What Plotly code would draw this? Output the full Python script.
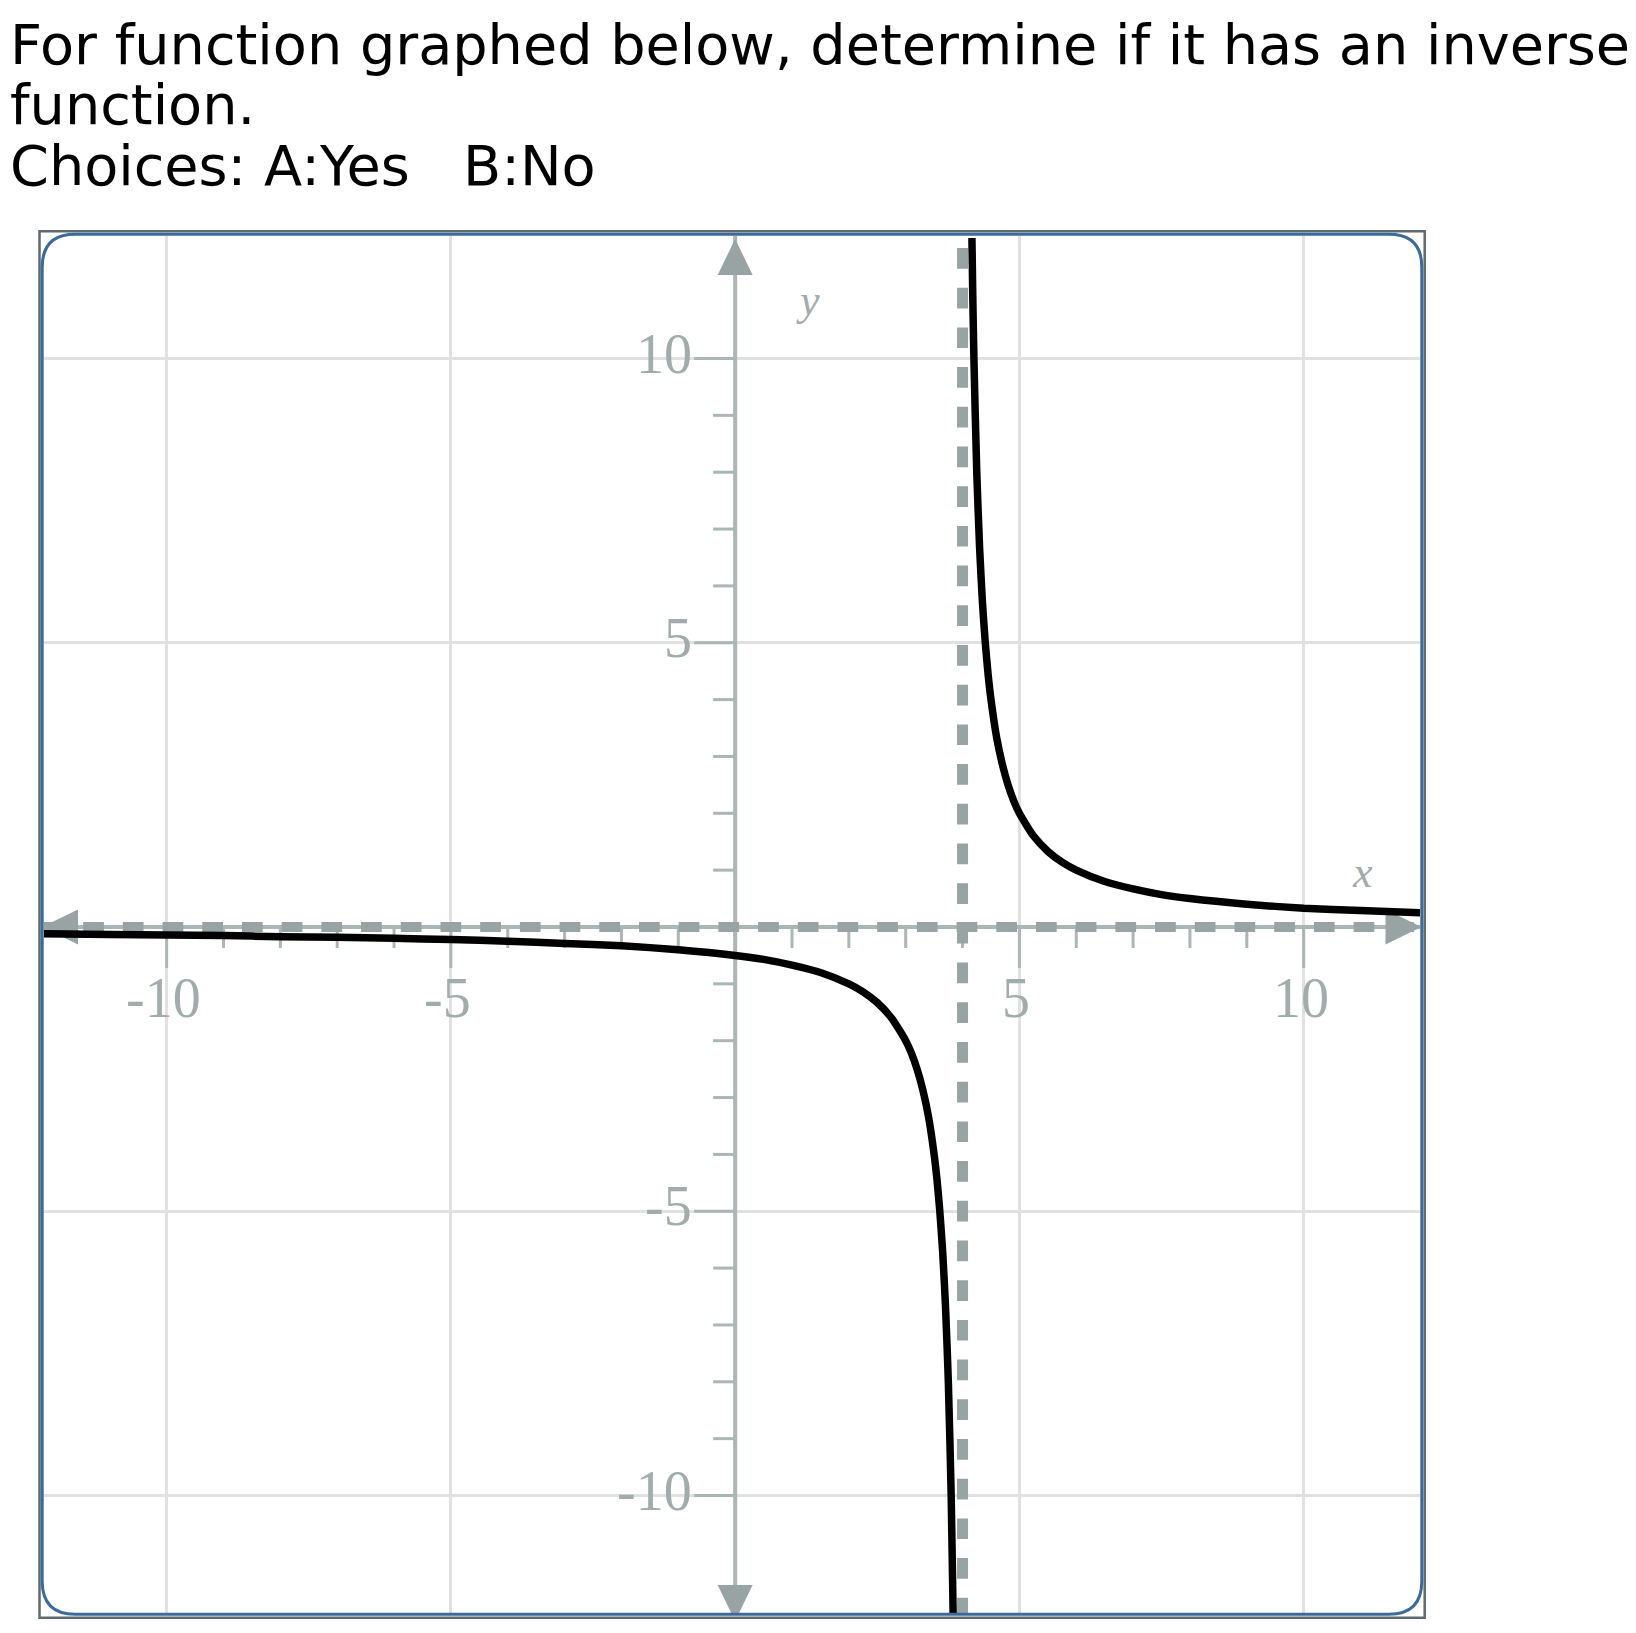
import plotly.graph_objects as go

# ---------------- text ----------------
question_lines = [
    "For function graphed below, determine if it has an inverse",
    "function.",
    "Choices: A:Yes   B:No",
]

# ---------------- data ----------------
left_x = [-12.2, -11, -10, -9, -8, -7, -6, -5, -4, -3, -2, -1, 0, 0.5, 1, 1.5, 2,
          2.25, 2.5, 2.75, 3, 3.1, 3.2, 3.3, 3.4, 3.5, 3.55, 3.6, 3.65, 3.7, 3.75, 3.8, 3.835]
left_y = [-0.12, -0.13, -0.14, -0.15, -0.17, -0.18, -0.2, -0.22, -0.25, -0.29, -0.33, -0.4,
          -0.5, -0.57, -0.67, -0.8, -1.0, -1.14, -1.33, -1.6, -2.0, -2.22, -2.5, -2.86,
          -3.33, -4.0, -4.44, -5.0, -5.71, -6.67, -8.0, -10.0, -12.12]

right_x = [4.165, 4.18, 4.2, 4.25, 4.3, 4.35, 4.4, 4.45, 4.5, 4.6, 4.7, 4.8, 4.9, 5.0,
           5.25, 5.5, 5.75, 6, 6.5, 7, 7.5, 8, 9, 10, 11, 12.1]
right_y = [12.12, 11.1, 10.0, 8.0, 6.67, 5.71, 5.0, 4.44, 4.0, 3.33, 2.86, 2.5, 2.22, 2.0,
           1.6, 1.33, 1.14, 1.0, 0.8, 0.67, 0.57, 0.5, 0.4, 0.33, 0.29, 0.25]

vertical_asymptote = 4
horizontal_asymptote = 0

x_tick_values = [-10, -5, 5, 10]
x_tick_labels = ["-10", "-5", "5", "10"]
y_tick_values = [10, 5, -5, -10]
y_tick_labels = ["10", "5", "-5", "-10"]
small_ticks = [-10, -9, -8, -7, -6, -5, -4, -3, -2, -1, 1, 2, 3, 4, 5, 6, 7, 8, 9, 10]

# ---------------- geometry / style ----------------
OFF = 8  # page body margin
W, H = 1628, 1625
# page-pixel positions of the plotting area
L_pg, R_pg, T_pg, B_pg = 44, 1420, 236, 1613
L, R, T, B = L_pg - OFF, R_pg - OFF, T_pg - OFF, B_pg - OFF
X0_PX, Y0_PX, S = 735.15, 927.0, 56.85  # page pixels of the origin, px per unit

x_range = [(L_pg - X0_PX) / S, (R_pg - X0_PX) / S]
y_range = [(Y0_PX - B_pg) / S, (Y0_PX - T_pg) / S]


def u(p):
    return p / S


def pxp(p):  # page x pixel -> paper
    return (p - L_pg) / (R_pg - L_pg)


def pyp(p):  # page y pixel -> paper
    return (B_pg - p) / (B_pg - T_pg)


AXIS = "#abb6b5"
DARK = "#97a4a3"
GRID = "#e1e1e1"
LABEL = "#a2acac"
SERIF = "Liberation Serif"

fig = go.Figure()

fig.add_trace(go.Scatter(x=left_x, y=left_y, mode="lines",
                         line=dict(color="black", width=7.5, shape="spline", smoothing=0.6),
                         hoverinfo="skip", showlegend=False))
fig.add_trace(go.Scatter(x=right_x, y=right_y, mode="lines",
                         line=dict(color="black", width=7.5, shape="spline", smoothing=0.6),
                         hoverinfo="skip", showlegend=False))

shapes = []
# axis lines
shapes.append(dict(type="line", xref="x", yref="y", x0=x_range[0] - 1, x1=x_range[1] + 1,
                   y0=0, y1=0, line=dict(color=AXIS, width=4), layer="between"))
shapes.append(dict(type="line", xref="x", yref="y", x0=0, x1=0,
                   y0=y_range[0] - 1, y1=y_range[1] + 1, line=dict(color=AXIS, width=4), layer="between"))
# tick marks
major = set(x_tick_values)
for t in small_ticks:
    ln = u(41) if t in major else u(21)
    shapes.append(dict(type="line", xref="x", yref="y", x0=t, x1=t, y0=0, y1=-ln,
                       line=dict(color=AXIS, width=3), layer="between"))
major_y = set(y_tick_values)
for t in small_ticks:
    ln = u(41) if t in major_y else u(22)
    shapes.append(dict(type="line", xref="x", yref="y", x0=0, x1=-ln, y0=t, y1=t,
                       line=dict(color=AXIS, width=3), layer="between"))
# asymptotes (dashed)
shapes.append(dict(type="line", xref="x", yref="y", x0=(3.8 - X0_PX) / S, x1=x_range[1] + 1,
                   y0=horizontal_asymptote, y1=horizontal_asymptote,
                   line=dict(color=DARK, width=10, dash="20.7px,19px"), layer="between"))
shapes.append(dict(type="line", xref="x", yref="y", x0=vertical_asymptote, x1=vertical_asymptote,
                   y0=(Y0_PX - 208.3) / S, y1=y_range[0] - 1,
                   line=dict(color=DARK, width=11, dash="20.7px,19px"), layer="between"))
# arrow heads
hw, al = u(17.5), u(36)
ytip_top, ytip_bot = u(Y0_PX - 239), -u(1621 - Y0_PX)
xtip_l, xtip_r = -u(X0_PX - 42), u(1421.5 - X0_PX)
arrows = [
    f"M {-hw},{ytip_top - al} L {hw},{ytip_top - al} L 0,{ytip_top} Z",
    f"M {-hw},{ytip_bot + al} L {hw},{ytip_bot + al} L 0,{ytip_bot} Z",
    f"M {xtip_l + al},{-hw} L {xtip_l + al},{hw} L {xtip_l},0 Z",
    f"M {xtip_r - al},{-hw} L {xtip_r - al},{hw} L {xtip_r},0 Z",
]
for p in arrows:
    shapes.append(dict(type="path", xref="x", yref="y", path=p, fillcolor=DARK,
                       line=dict(width=0), layer="between"))

# frame: grey outer rectangle + blue rounded rectangle
shapes.append(dict(type="rect", xref="paper", yref="paper",
                   x0=pxp(39.5), x1=pxp(1424.7), y0=pyp(1617.7), y1=pyp(231.2),
                   line=dict(color="#5e6a6c", width=2.5), layer="above"))
bl, br, bt, bb, r = 42.2, 1421.8, 234.2, 1614.3, 33
pts = [("M", bl + r, bt), ("L", br - r, bt), ("Q", br, bt, br, bt + r), ("L", br, bb - r),
       ("Q", br, bb, br - r, bb), ("L", bl + r, bb), ("Q", bl, bb, bl, bb - r), ("L", bl, bt + r),
       ("Q", bl, bt, bl + r, bt)]
path = ""
for seg in pts:
    c = seg[0]
    coords = seg[1:]
    pairs = []
    for i in range(0, len(coords), 2):
        pairs.append(f"{pxp(coords[i]):.6f},{pyp(coords[i + 1]):.6f}")
    path += c + " " + " ".join(pairs) + " "
path += "Z"
shapes.append(dict(type="path", xref="paper", yref="paper", path=path,
                   line=dict(color="#3c6a9c", width=3), layer="above"))

annotations = []
centers = [44.3, 105.0, 166.0]
for txt, cy in zip(question_lines, centers):
    annotations.append(dict(text=txt, xref="paper", yref="paper", x=pxp(7.5), y=pyp(cy),
                            xanchor="left", yanchor="middle", showarrow=False,
                            font=dict(family="DejaVu Sans", size=55.7, color="black")))
for v, t in zip(x_tick_values, x_tick_labels):
    annotations.append(dict(text=t, xref="x", yref="y", x=v - u(3), y=-u(998 - Y0_PX),
                            xanchor="center", yanchor="middle", showarrow=False,
                            font=dict(family=SERIF, size=56, color=LABEL)))
for v, t in zip(y_tick_values, y_tick_labels):
    annotations.append(dict(text=t, xref="x", yref="y", x=-u(X0_PX - 694), y=v + u(5),
                            xanchor="right", yanchor="middle", showarrow=False,
                            font=dict(family=SERIF, size=56, color=LABEL)))
annotations.append(dict(text="<i>x</i>", xref="x", yref="y", x=u(1362 - X0_PX), y=u(Y0_PX - 872),
                        xanchor="center", yanchor="middle", showarrow=False,
                        font=dict(family=SERIF, size=44, color=LABEL)))
annotations.append(dict(text="<i>y</i>", xref="x", yref="y", x=u(808 - X0_PX), y=u(Y0_PX - 300),
                        xanchor="center", yanchor="middle", showarrow=False,
                        font=dict(family=SERIF, size=44, color=LABEL)))

fig.update_layout(
    width=W, height=H,
    margin=dict(l=L, r=W - R, t=T, b=H - B, pad=0),
    paper_bgcolor="white", plot_bgcolor="white",
    shapes=shapes, annotations=annotations, showlegend=False,
    xaxis=dict(range=x_range, tick0=0, dtick=5, showgrid=True, gridcolor=GRID, gridwidth=3,
               zeroline=False, showticklabels=False, ticks="", showline=False, fixedrange=True),
    yaxis=dict(range=y_range, tick0=0, dtick=5, showgrid=True, gridcolor=GRID, gridwidth=3,
               zeroline=False, showticklabels=False, ticks="", showline=False, fixedrange=True),
)

fig.write_html("out.html")
